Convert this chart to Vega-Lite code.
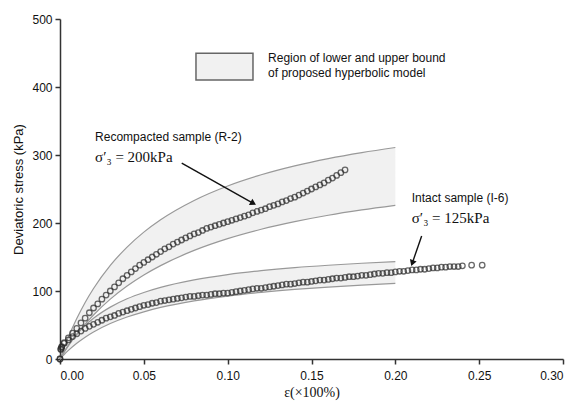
{
"$schema": "https://vega.github.io/schema/vega-lite/v6.json",
"width": 503, "height": 340,
"autosize": {"type": "none"},
"padding": {"left": 60, "top": 19, "right": 13, "bottom": 48},
"background": "white",
"config": {
  "view": {"stroke": null},
  "axis": {"grid": false, "domainColor": "#333", "domainWidth": 1.5, "tickColor": "#333", "tickWidth": 1.5, "tickSize": 5,
    "labelFont": "Liberation Sans", "labelFontSize": 12, "labelColor": "#111",
    "titleFont": "Liberation Sans", "titleFontSize": 13, "titleFontWeight": "normal", "titleColor": "#111"}
},
"datasets": {
  "bands": [
    {"s":"R-2","x":0,"hi":0,"lo":0},{"s":"R-2","x":0.0025,"hi":16.8,"lo":9.9},{"s":"R-2","x":0.005,"hi":32.2,"lo":19.2},{"s":"R-2","x":0.01,"hi":59.5,"lo":36.1},{"s":"R-2","x":0.015,"hi":83.1,"lo":51.2},{"s":"R-2","x":0.02,"hi":103.6,"lo":64.7},{"s":"R-2","x":0.03,"hi":137.6,"lo":88.0},{"s":"R-2","x":0.04,"hi":164.6,"lo":107.2},{"s":"R-2","x":0.05,"hi":186.6,"lo":123.5},{"s":"R-2","x":0.06,"hi":204.8,"lo":137.3},{"s":"R-2","x":0.08,"hi":233.2,"lo":159.7},{"s":"R-2","x":0.1,"hi":254.5,"lo":177.0},{"s":"R-2","x":0.12,"hi":270.9,"lo":190.8},{"s":"R-2","x":0.14,"hi":284.0,"lo":202.0},{"s":"R-2","x":0.16,"hi":294.7,"lo":211.4},{"s":"R-2","x":0.18,"hi":303.5,"lo":219.2},{"s":"R-2","x":0.2,"hi":311.0,"lo":226.0},
    {"s":"I-6","x":0,"hi":0,"lo":0},{"s":"I-6","x":0.0025,"hi":10.8,"lo":6.6},{"s":"I-6","x":0.005,"hi":20.4,"lo":12.6},{"s":"I-6","x":0.01,"hi":36.4,"lo":23.1},{"s":"I-6","x":0.015,"hi":49.3,"lo":32.1},{"s":"I-6","x":0.02,"hi":59.9,"lo":39.7},{"s":"I-6","x":0.03,"hi":76.3,"lo":52.1},{"s":"I-6","x":0.04,"hi":88.5,"lo":61.7},{"s":"I-6","x":0.05,"hi":97.8,"lo":69.4},{"s":"I-6","x":0.06,"hi":105.3,"lo":75.8},{"s":"I-6","x":0.08,"hi":116.3,"lo":85.5},{"s":"I-6","x":0.1,"hi":124.1,"lo":92.6},{"s":"I-6","x":0.12,"hi":129.9,"lo":98.0},{"s":"I-6","x":0.14,"hi":134.4,"lo":102.3},{"s":"I-6","x":0.16,"hi":137.9,"lo":105.8},{"s":"I-6","x":0.18,"hi":140.8,"lo":108.7},{"s":"I-6","x":0.2,"hi":143.3,"lo":111.1}
  ],
  "pts": [
    {"s":"R-2","x":0,"y":0},{"s":"R-2","x":0.0005,"y":14},{"s":"R-2","x":0.001,"y":17},{"s":"R-2","x":0.0025,"y":24},{"s":"R-2","x":0.005,"y":31},{"s":"R-2","x":0.0075,"y":38},{"s":"R-2","x":0.01,"y":45},{"s":"R-2","x":0.0125,"y":53},{"s":"R-2","x":0.015,"y":60},{"s":"R-2","x":0.0175,"y":68},{"s":"R-2","x":0.02,"y":75},{"s":"R-2","x":0.0225,"y":81},{"s":"R-2","x":0.025,"y":88},{"s":"R-2","x":0.0275,"y":94},{"s":"R-2","x":0.03,"y":100},{"s":"R-2","x":0.0325,"y":106},{"s":"R-2","x":0.035,"y":112},{"s":"R-2","x":0.0375,"y":118},{"s":"R-2","x":0.04,"y":123},{"s":"R-2","x":0.0425,"y":128},{"s":"R-2","x":0.045,"y":133},{"s":"R-2","x":0.0475,"y":138},{"s":"R-2","x":0.05,"y":142},{"s":"R-2","x":0.0525,"y":146},{"s":"R-2","x":0.055,"y":150},{"s":"R-2","x":0.0575,"y":154},{"s":"R-2","x":0.06,"y":158},{"s":"R-2","x":0.0625,"y":162},{"s":"R-2","x":0.065,"y":165},{"s":"R-2","x":0.0675,"y":169},{"s":"R-2","x":0.07,"y":172},{"s":"R-2","x":0.0725,"y":175},{"s":"R-2","x":0.075,"y":178},{"s":"R-2","x":0.0775,"y":181},{"s":"R-2","x":0.08,"y":184},{"s":"R-2","x":0.0825,"y":186},{"s":"R-2","x":0.085,"y":189},{"s":"R-2","x":0.0875,"y":192},{"s":"R-2","x":0.09,"y":194},{"s":"R-2","x":0.0925,"y":196},{"s":"R-2","x":0.095,"y":198},{"s":"R-2","x":0.0975,"y":200},{"s":"R-2","x":0.1,"y":202},{"s":"R-2","x":0.1025,"y":204},{"s":"R-2","x":0.105,"y":206},{"s":"R-2","x":0.1075,"y":208},{"s":"R-2","x":0.11,"y":210},{"s":"R-2","x":0.1125,"y":212},{"s":"R-2","x":0.115,"y":215},{"s":"R-2","x":0.1175,"y":217},{"s":"R-2","x":0.12,"y":219},{"s":"R-2","x":0.1225,"y":221},{"s":"R-2","x":0.125,"y":224},{"s":"R-2","x":0.1275,"y":226},{"s":"R-2","x":0.13,"y":228},{"s":"R-2","x":0.1325,"y":231},{"s":"R-2","x":0.135,"y":233},{"s":"R-2","x":0.1375,"y":236},{"s":"R-2","x":0.14,"y":238},{"s":"R-2","x":0.1425,"y":241},{"s":"R-2","x":0.145,"y":244},{"s":"R-2","x":0.1475,"y":247},{"s":"R-2","x":0.15,"y":250},{"s":"R-2","x":0.1525,"y":253},{"s":"R-2","x":0.155,"y":256},{"s":"R-2","x":0.1575,"y":259},{"s":"R-2","x":0.16,"y":263},{"s":"R-2","x":0.1625,"y":266},{"s":"R-2","x":0.165,"y":270},{"s":"R-2","x":0.1675,"y":274},{"s":"R-2","x":0.17,"y":278},
    {"s":"I-6","x":0,"y":0},{"s":"I-6","x":0.0005,"y":15},{"s":"I-6","x":0.001,"y":18},{"s":"I-6","x":0.0025,"y":23},{"s":"I-6","x":0.005,"y":28},{"s":"I-6","x":0.0075,"y":33},{"s":"I-6","x":0.01,"y":37},{"s":"I-6","x":0.0125,"y":41},{"s":"I-6","x":0.015,"y":45},{"s":"I-6","x":0.0175,"y":48},{"s":"I-6","x":0.02,"y":51},{"s":"I-6","x":0.0225,"y":54},{"s":"I-6","x":0.025,"y":57},{"s":"I-6","x":0.0275,"y":60},{"s":"I-6","x":0.03,"y":62},{"s":"I-6","x":0.0325,"y":64},{"s":"I-6","x":0.035,"y":67},{"s":"I-6","x":0.0375,"y":69},{"s":"I-6","x":0.04,"y":71},{"s":"I-6","x":0.0425,"y":73},{"s":"I-6","x":0.045,"y":75},{"s":"I-6","x":0.0475,"y":77},{"s":"I-6","x":0.05,"y":79},{"s":"I-6","x":0.0525,"y":80},{"s":"I-6","x":0.055,"y":82},{"s":"I-6","x":0.0575,"y":83},{"s":"I-6","x":0.06,"y":85},{"s":"I-6","x":0.0625,"y":86},{"s":"I-6","x":0.065,"y":87},{"s":"I-6","x":0.0675,"y":88},{"s":"I-6","x":0.07,"y":89},{"s":"I-6","x":0.0725,"y":90},{"s":"I-6","x":0.075,"y":91},{"s":"I-6","x":0.0775,"y":92},{"s":"I-6","x":0.08,"y":92},{"s":"I-6","x":0.0825,"y":93},{"s":"I-6","x":0.085,"y":94},{"s":"I-6","x":0.0875,"y":94},{"s":"I-6","x":0.09,"y":95},{"s":"I-6","x":0.0925,"y":96},{"s":"I-6","x":0.095,"y":96},{"s":"I-6","x":0.0975,"y":97},{"s":"I-6","x":0.1,"y":97},{"s":"I-6","x":0.1025,"y":98},{"s":"I-6","x":0.105,"y":99},{"s":"I-6","x":0.1075,"y":100},{"s":"I-6","x":0.11,"y":101},{"s":"I-6","x":0.1125,"y":102},{"s":"I-6","x":0.115,"y":103},{"s":"I-6","x":0.1175,"y":104},{"s":"I-6","x":0.12,"y":104},{"s":"I-6","x":0.1225,"y":105},{"s":"I-6","x":0.125,"y":106},{"s":"I-6","x":0.1275,"y":107},{"s":"I-6","x":0.13,"y":108},{"s":"I-6","x":0.1325,"y":109},{"s":"I-6","x":0.135,"y":110},{"s":"I-6","x":0.1375,"y":110},{"s":"I-6","x":0.14,"y":111},{"s":"I-6","x":0.1425,"y":112},{"s":"I-6","x":0.145,"y":113},{"s":"I-6","x":0.1475,"y":113},{"s":"I-6","x":0.15,"y":114},{"s":"I-6","x":0.1525,"y":115},{"s":"I-6","x":0.155,"y":116},{"s":"I-6","x":0.1575,"y":116},{"s":"I-6","x":0.16,"y":117},{"s":"I-6","x":0.1625,"y":118},{"s":"I-6","x":0.165,"y":119},{"s":"I-6","x":0.1675,"y":119},{"s":"I-6","x":0.17,"y":120},{"s":"I-6","x":0.1725,"y":121},{"s":"I-6","x":0.175,"y":121},{"s":"I-6","x":0.1775,"y":122},{"s":"I-6","x":0.18,"y":123},{"s":"I-6","x":0.1825,"y":123},{"s":"I-6","x":0.185,"y":124},{"s":"I-6","x":0.1875,"y":125},{"s":"I-6","x":0.19,"y":126},{"s":"I-6","x":0.1925,"y":126},{"s":"I-6","x":0.195,"y":127},{"s":"I-6","x":0.1975,"y":127},{"s":"I-6","x":0.2,"y":128},{"s":"I-6","x":0.2025,"y":129},{"s":"I-6","x":0.205,"y":129},{"s":"I-6","x":0.2075,"y":130},{"s":"I-6","x":0.21,"y":131},{"s":"I-6","x":0.2125,"y":131},{"s":"I-6","x":0.215,"y":132},{"s":"I-6","x":0.2175,"y":132},{"s":"I-6","x":0.22,"y":133},{"s":"I-6","x":0.2225,"y":134},{"s":"I-6","x":0.225,"y":134},{"s":"I-6","x":0.2275,"y":135},{"s":"I-6","x":0.23,"y":135},{"s":"I-6","x":0.2325,"y":136},{"s":"I-6","x":0.235,"y":136},{"s":"I-6","x":0.2375,"y":136},{"s":"I-6","x":0.24,"y":137},{"s":"I-6","x":0.2455,"y":138},{"s":"I-6","x":0.2518,"y":138}
  ],
  "sansnotes": [
    {"x":0.0209,"y":327,"t":"Recompacted sample (R-2)"},
    {"x":0.2098,"y":236.3,"t":"Intact sample (I-6)"},
    {"x":0.1241,"y":442.2,"t":"Region of lower and upper bound"},
    {"x":0.1241,"y":420.1,"t":"of proposed hyperbolic model"}
  ],
  "serifnotes": [
    {"x":0.0209,"y":297.5,"t":"σ′₃ = 200kPa"},
    {"x":0.2098,"y":206.9,"t":"σ′₃ = 125kPa"}
  ],
  "arrows": [
    {"a":"R-2","x":0.0726,"y":288,"x2":0.1153,"y2":229},
    {"a":"I-6","x":0.2157,"y":181,"x2":0.2101,"y2":141}
  ],
  "legendbox": [
    {"x":0.0811,"x2":0.1151,"y":449.6,"y2":410.3}
  ]
},
"layer": [
  {"data": {"name": "bands"},
   "mark": {"type": "area", "fill": "#f1f1f1", "interpolate": "monotone"},
   "encoding": {
     "x": {"field": "x", "type": "quantitative", "scale": {"domain": [0, 0.3], "nice": false, "zero": false},
       "axis": {"values": [0, 0.05, 0.1, 0.15, 0.2, 0.25, 0.3], "format": ".2f", "title": "ε(×100%)", "titleFont": "Liberation Serif", "titleFontSize": 14, "labelPadding": 6, "titlePadding": 4}},
     "y": {"field": "hi", "type": "quantitative", "scale": {"domain": [0, 500], "nice": false},
       "axis": {"values": [0, 100, 200, 300, 400, 500], "title": "Deviatoric stress (kPa)", "titlePadding": 6, "labelPadding": 3}},
     "y2": {"field": "lo"},
     "detail": {"field": "s"}
   }},
  {"data": {"name": "bands"},
   "mark": {"type": "line", "color": "#999", "strokeWidth": 1.2, "interpolate": "monotone"},
   "encoding": {"x": {"field": "x", "type": "quantitative"}, "y": {"field": "hi", "type": "quantitative"}, "detail": {"field": "s"}}},
  {"data": {"name": "bands"},
   "mark": {"type": "line", "color": "#999", "strokeWidth": 1.2, "interpolate": "monotone"},
   "encoding": {"x": {"field": "x", "type": "quantitative"}, "y": {"field": "lo", "type": "quantitative"}, "detail": {"field": "s"}}},
  {"data": {"name": "legendbox"},
   "mark": {"type": "rect", "fill": "#f1f1f1", "stroke": "#666", "strokeWidth": 1.5},
   "encoding": {"x": {"field": "x", "type": "quantitative"}, "x2": {"field": "x2"}, "y": {"field": "y", "type": "quantitative"}, "y2": {"field": "y2"}}},
  {"data": {"name": "pts"},
   "mark": {"type": "point", "shape": "circle", "filled": false, "stroke": "#2a2a2a", "strokeWidth": 1.3, "size": 30},
   "encoding": {"x": {"field": "x", "type": "quantitative"}, "y": {"field": "y", "type": "quantitative"}}},
  {"data": {"name": "sansnotes"},
   "mark": {"type": "text", "align": "left", "baseline": "middle", "font": "Liberation Sans", "fontSize": 12, "color": "#111"},
   "encoding": {"x": {"field": "x", "type": "quantitative"}, "y": {"field": "y", "type": "quantitative"}, "text": {"field": "t"}}},
  {"data": {"name": "serifnotes"},
   "mark": {"type": "text", "align": "left", "baseline": "middle", "font": "Liberation Serif", "fontSize": 15, "color": "#111"},
   "encoding": {"x": {"field": "x", "type": "quantitative"}, "y": {"field": "y", "type": "quantitative"}, "text": {"field": "t"}}},
  {"data": {"name": "arrows"},
   "mark": {"type": "rule", "color": "#111", "strokeWidth": 1.4},
   "encoding": {"x": {"field": "x", "type": "quantitative"}, "y": {"field": "y", "type": "quantitative"}, "x2": {"field": "x2"}, "y2": {"field": "y2"}}},
  {"data": {"name": "arrows"},
   "transform": [{"filter": "datum.a == 'R-2'"}],
   "mark": {"type": "point", "shape": "triangle-right", "filled": true, "color": "#111", "size": 50, "angle": 29, "opacity": 1},
   "encoding": {"x": {"field": "x2", "type": "quantitative"}, "y": {"field": "y2", "type": "quantitative"}}},
  {"data": {"name": "arrows"},
   "transform": [{"filter": "datum.a == 'I-6'"}],
   "mark": {"type": "point", "shape": "triangle-right", "filled": true, "color": "#111", "size": 50, "angle": 109, "opacity": 1},
   "encoding": {"x": {"field": "x2", "type": "quantitative"}, "y": {"field": "y2", "type": "quantitative"}}}
]
}
